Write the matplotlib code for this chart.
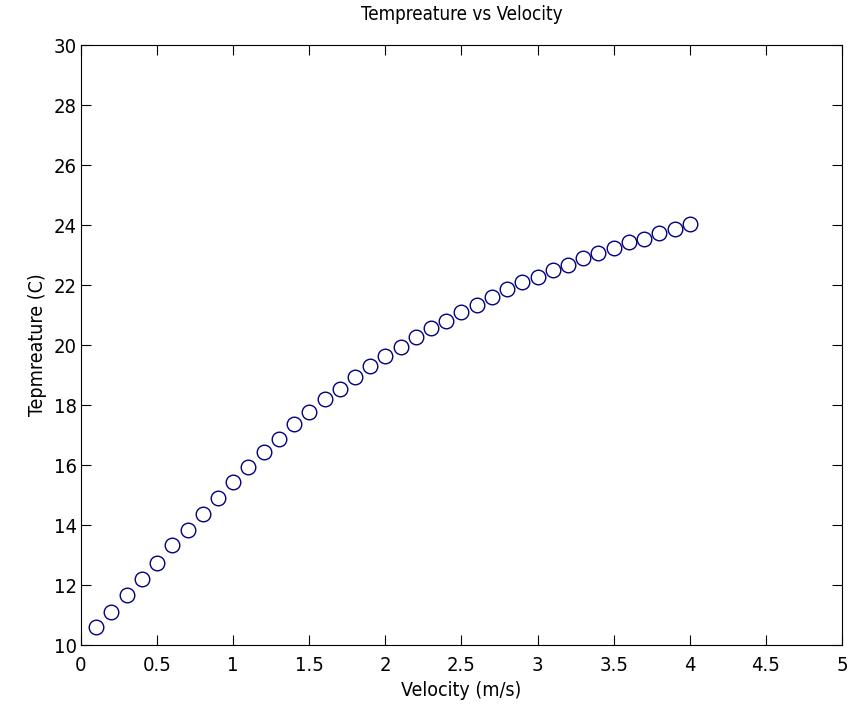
import matplotlib
matplotlib.use("Agg")
import matplotlib.pyplot as plt

velocity = [0.1, 0.2, 0.3, 0.4, 0.5, 0.6, 0.7, 0.8, 0.9, 1.0,
            1.1, 1.2, 1.3, 1.4, 1.5, 1.6, 1.7, 1.8, 1.9, 2.0,
            2.1, 2.2, 2.3, 2.4, 2.5, 2.6, 2.7, 2.8, 2.9, 3.0,
            3.1, 3.2, 3.3, 3.4, 3.5, 3.6, 3.7, 3.8, 3.9, 4.0]
temperature = [10.59, 11.11, 11.67, 12.20, 12.74, 13.32, 13.84, 14.38, 14.90, 15.43,
               15.94, 16.42, 16.88, 17.36, 17.77, 18.19, 18.52, 18.94, 19.30, 19.64,
               19.93, 20.28, 20.57, 20.81, 21.09, 21.33, 21.61, 21.86, 22.10, 22.26,
               22.51, 22.67, 22.89, 23.08, 23.22, 23.42, 23.54, 23.72, 23.88, 24.02]
x_ticks = [0, 0.5, 1, 1.5, 2, 2.5, 3, 3.5, 4, 4.5, 5]
x_labels = ["0", "0.5", "1", "1.5", "2", "2.5", "3", "3.5", "4", "4.5", "5"]
y_ticks = [10, 12, 14, 16, 18, 20, 22, 24, 26, 28, 30]

plt.rcParams['font.family'] = ['DejaVu Sans']
plt.rcParams['font.stretch'] = 'condensed'

fig = plt.figure(figsize=(8.49, 7.11), dpi=100)
ax = fig.add_axes([0.0954, 0.0928, 0.8963, 0.8439])
ax.plot(velocity, temperature, linestyle='none', marker='o', markersize=10.5,
        markerfacecolor='none', markeredgecolor='#000080', markeredgewidth=1.0)
ax.set_xlim(0, 5)
ax.set_ylim(10, 30)
ax.set_xticks(x_ticks)
ax.set_xticklabels(x_labels)
ax.set_yticks(y_ticks)
ax.tick_params(direction='in', top=True, right=True, length=7, labelsize=14.5, width=0.8)
ax.tick_params(axis='x', pad=8)
ax.tick_params(axis='y', pad=3)
for s in ax.spines.values():
    s.set_linewidth(0.8)
ax.set_xlabel("Velocity (m/s)", fontsize=14, labelpad=4)
ax.set_ylabel("Tepmreature (C)", fontsize=14, labelpad=5)
ax.set_title("Tempreature vs Velocity", fontsize=13.5, pad=18)
fig.savefig("out.png", dpi=100)
